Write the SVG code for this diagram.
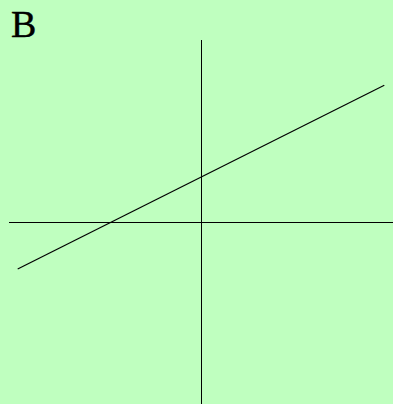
<svg xmlns="http://www.w3.org/2000/svg" width="393" height="404" viewBox="0 0 393 404">
<style>
.ax{stroke:#000;stroke-width:1;fill:none}
.ln{stroke:#000;stroke-width:1.2;fill:none}
.lbl{font-family:"Liberation Serif","DejaVu Serif",serif;font-size:38px;fill:#000;stroke:#000;stroke-width:0.4}
</style>
<rect width="393" height="404" fill="#bfffbf"/>
<g id="label"><text class="lbl" x="11" y="37">B</text></g>
<g id="axes">
<line class="ax" x1="9" y1="222.5" x2="393" y2="222.5"/>
<line class="ax" x1="201.5" y1="40" x2="201.5" y2="404"/>
</g>
<g id="connectors">
<line class="ln" x1="17.7" y1="269" x2="384.3" y2="85.3"/>
</g>
</svg>
